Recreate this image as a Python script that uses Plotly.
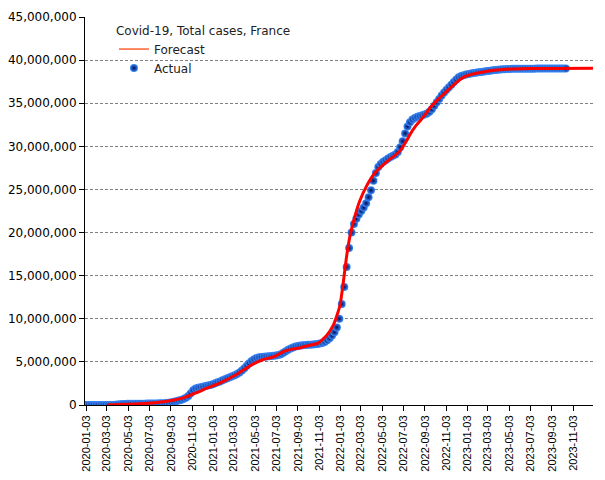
import pandas as pd
import plotly.graph_objects as go

# ---------------- data ----------------
# Actual: weekly cumulative cases (millions), first week 2020-01-03
actual_start = "2020-01-03"
actual_millions = [
    0, 0, 0, 0, 0, 0, 0, 0, 0.0001, 0.0004,
    0.004, 0.013, 0.033, 0.065, 0.090, 0.109, 0.124, 0.131, 0.138, 0.142,
    0.145, 0.149, 0.153, 0.156, 0.159, 0.162, 0.166, 0.170, 0.176, 0.183,
    0.193, 0.202, 0.217, 0.239, 0.272, 0.317, 0.365, 0.432, 0.508, 0.590,
    0.700, 0.850, 1.05, 1.35, 1.70, 1.90, 2.00, 2.07, 2.13, 2.19,
    2.25, 2.33, 2.42, 2.52, 2.63, 2.74, 2.86, 2.98, 3.10, 3.22,
    3.34, 3.46, 3.60, 3.78, 4.00, 4.25, 4.55, 4.85, 5.10, 5.30,
    5.45, 5.53, 5.58, 5.61, 5.63, 5.65, 5.67, 5.70, 5.74, 5.80,
    5.90, 6.05, 6.22, 6.40, 6.56, 6.68, 6.78, 6.85, 6.90, 6.93,
    6.96, 6.98, 7.00, 7.02, 7.05, 7.08, 7.13, 7.20, 7.32, 7.50,
    7.75, 8.05, 8.45, 9.00, 10.0, 11.7, 13.7, 16.0, 18.2, 20.0,
    21.0, 21.6, 22.1, 22.5, 22.9, 23.4, 24.1, 24.9, 26.0, 26.9,
    27.6, 27.95, 28.2, 28.4, 28.6, 28.75, 28.9, 29.05, 29.35, 29.9,
    30.6, 31.5, 32.3, 32.8, 33.1, 33.3, 33.42, 33.52, 33.6, 33.7,
    33.82, 34.0, 34.3, 34.7, 35.1, 35.5, 35.9, 36.25, 36.55, 36.85,
    37.15, 37.45, 37.75, 38.0, 38.15, 38.25, 38.33, 38.40, 38.45, 38.50,
    38.54, 38.58, 38.62, 38.66, 38.70, 38.74, 38.78, 38.82, 38.85, 38.88,
    38.91, 38.93, 38.95, 38.97, 38.98, 38.99, 39.00, 39.00, 39.00, 39.00,
    39.01, 39.01, 39.01, 39.01, 39.01, 39.02, 39.02, 39.02, 39.02, 39.02,
    39.02, 39.02, 39.02, 39.02, 39.02, 39.02, 39.02, 39.02,
]

forecast_dates = [
    "2020-03-03", "2020-05-01", "2020-07-20", "2020-09-01", "2020-10-06",
    "2020-11-14", "2020-12-15", "2021-01-20", "2021-03-09", "2021-04-23",
    "2021-05-25", "2021-06-27", "2021-07-23", "2021-08-15", "2021-09-11",
    "2021-10-05", "2021-10-30", "2021-11-25", "2021-12-14", "2021-12-25",
    "2022-01-02", "2022-01-11", "2022-01-20", "2022-01-30", "2022-02-13",
    "2022-02-27", "2022-03-18", "2022-04-12", "2022-05-16", "2022-06-09",
    "2022-06-24", "2022-07-10", "2022-07-24", "2022-08-07", "2022-08-21",
    "2022-09-04", "2022-09-18", "2022-10-02", "2022-10-16", "2022-10-30",
    "2022-11-13", "2022-11-27", "2022-12-11", "2022-12-25", "2023-01-15",
    "2023-02-15", "2023-03-15", "2023-04-15", "2023-05-15", "2023-07-01",
    "2023-09-01", "2023-12-30",
]
forecast_millions = [
    0.0, 0.08, 0.27, 0.50, 0.80,
    1.40, 1.95, 2.50, 3.50, 4.65,
    5.25, 5.60, 6.20, 6.45, 6.65,
    6.90, 7.15, 8.10, 9.30, 10.5,
    11.6, 14.1, 17.0, 19.5, 21.8,
    23.6, 25.3, 26.9, 28.2, 28.95,
    29.5, 30.5, 31.5, 32.35, 33.0,
    33.7, 34.5, 35.1, 35.65, 36.15,
    36.7, 37.2, 37.7, 38.05, 38.35,
    38.6, 38.8, 38.92, 38.98, 39.02,
    39.04, 39.05,
]

x_tick_labels = [
    "2020-01-03", "2020-03-03", "2020-05-03", "2020-07-03", "2020-09-03", "2020-11-03",
    "2021-01-03", "2021-03-03", "2021-05-03", "2021-07-03", "2021-09-03", "2021-11-03",
    "2022-01-03", "2022-03-03", "2022-05-03", "2022-07-03", "2022-09-03", "2022-11-03",
    "2023-01-03", "2023-03-03", "2023-05-03", "2023-07-03", "2023-09-03", "2023-11-03",
]
y_tick_values = [0, 5e6, 10e6, 15e6, 20e6, 25e6, 30e6, 35e6, 40e6, 45e6]

# ---------------- figure ----------------
actual_dates = pd.date_range(actual_start, periods=len(actual_millions), freq="7D")
actual_vals = [v * 1e6 for v in actual_millions]
forecast_vals = [v * 1e6 for v in forecast_millions]

fig = go.Figure()

# legend-only sample for the forecast (thin orange-red line)
fig.add_trace(go.Scatter(
    x=[None], y=[None], mode="lines", name="Forecast",
    line=dict(color="#ff3a00", width=1.2),
))

fig.add_trace(go.Scatter(
    x=actual_dates, y=actual_vals, mode="markers", name="Actual",
    marker=dict(size=8, color="#3a8cff",
                gradient=dict(type="radial", color="#000a55"),
                line=dict(width=0)),
))

fig.add_trace(go.Scatter(
    x=forecast_dates, y=forecast_vals, mode="lines", name="Forecast line",
    showlegend=False,
    line=dict(color="#ff0000", width=3, shape="spline", smoothing=0.5),
))

fig.update_layout(
    width=605, height=480,
    margin=dict(l=85, r=12, t=17, b=75, autoexpand=False),
    paper_bgcolor="white", plot_bgcolor="white",
    font=dict(family="DejaVu Sans", size=12, color="black"),
    showlegend=True,
    legend=dict(
        title=dict(text="Covid-19, Total cases, France",
                   font=dict(family="DejaVu Sans", size=12, color="#222")),
        x=0.057, y=0.995, xanchor="left", yanchor="top",
        bgcolor="rgba(0,0,0,0)", borderwidth=0,
        font=dict(family="DejaVu Sans", size=12, color="#222"),
        itemwidth=30, tracegroupgap=0,
    ),
)

fig.update_xaxes(
    type="date",
    range=["2019-12-31", "2023-12-30"],
    tickvals=x_tick_labels, ticktext=x_tick_labels,
    tickangle=-90,
    tickfont=dict(family="Liberation Sans", size=11, color="black"),
    ticks="outside", ticklen=5, tickcolor="black",
    showline=True, linecolor="black", linewidth=1,
    showgrid=False, zeroline=False, automargin=False,
)

fig.update_yaxes(
    range=[0, 45e6],
    tickvals=y_tick_values, tickformat=",d",
    tickfont=dict(family="DejaVu Sans", size=12, color="black"),
    ticks="outside", ticklen=5, tickcolor="black",
    showline=True, linecolor="black", linewidth=1,
    showgrid=True, gridcolor="#808080", gridwidth=1, griddash="3px,2px",
    zeroline=False, automargin=False,
)

fig.write_html(
    "out.html",
    config={"displayModeBar": False},
    post_script="document.body.style.margin='0';document.body.style.padding='0';",
)
